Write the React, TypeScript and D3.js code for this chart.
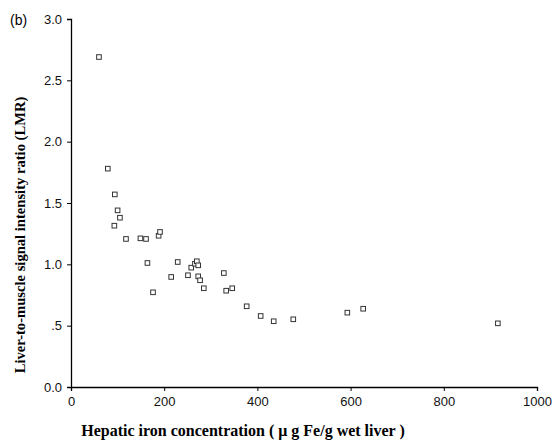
import { useEffect, useRef } from 'react';
import * as d3 from 'd3';

// hepatic iron (µg Fe/g wet liver) vs LMR
const ironValues = [60, 79, 94, 100, 105, 93, 118, 149, 161, 188, 191, 164, 176, 229, 215, 251, 258, 266, 270, 273, 273, 277, 285, 328, 333, 346, 377, 407, 435, 477, 593, 627, 916];
const lmrValues = [2.69, 1.78, 1.57, 1.44, 1.38, 1.315, 1.207, 1.212, 1.207, 1.233, 1.264, 1.011, 0.772, 1.019, 0.897, 0.911, 0.973, 1.005, 1.025, 0.992, 0.902, 0.87, 0.805, 0.929, 0.785, 0.805, 0.658, 0.579, 0.536, 0.552, 0.606, 0.638, 0.519];
const xTicks = [0, 200, 400, 600, 800, 1000];
const yTicks = [0, 0.5, 1, 1.5, 2, 2.5, 3];
const yTickLabels = ['0.0', '.5', '1.0', '1.5', '2.0', '2.5', '3.0'];

function App() {
  const svgRef = useRef<SVGSVGElement>(null);

  useEffect(() => {
    const width = 553;
    const height = 443;
    const left = 71, right = 537, top = 19, bottom = 387;

    const svg = d3.select(svgRef.current)
      .attr('width', width)
      .attr('height', height);

    const x = d3.scaleLinear().domain([0, 1000]).range([left, right]);
    const y = d3.scaleLinear().domain([0, 3]).range([bottom, top]);

    // y axis
    const yAxis = d3.axisLeft(y)
      .tickValues(yTicks)
      .tickSize(4)
      .tickPadding(5)
      .tickFormat((d, i) => yTickLabels[i]);
    const gy = svg.append('g')
      .attr('transform', `translate(${left},0)`)
      .call(yAxis);

    // x axis
    const xAxis = d3.axisBottom(x)
      .tickValues(xTicks)
      .tickSize(4)
      .tickPadding(6)
      .tickFormat(d3.format('d'));
    const gx = svg.append('g')
      .attr('transform', `translate(0,${bottom})`)
      .call(xAxis);

    [gx, gy].forEach(g => {
      g.select('.domain').attr('stroke', '#000').attr('stroke-width', 1.3);
      g.selectAll('.tick line').attr('stroke', '#000');
      g.selectAll('.tick text')
        .attr('fill', '#111')
        .style('font-family', '"Liberation Sans", Arial, sans-serif')
        .style('font-size', '13px');
    });

    // points
    const pts = ironValues.map((v, i) => [v, lmrValues[i]]);
    svg.append('g')
      .selectAll('rect')
      .data(pts)
      .enter().append('rect')
      .attr('x', d => x(d[0]) - 2.3)
      .attr('y', d => y(d[1]) - 2.3)
      .attr('width', 4.6)
      .attr('height', 4.6)
      .attr('fill', '#fff')
      .attr('stroke', '#333')
      .attr('stroke-width', 1);

    // titles
    svg.append('text')
      .attr('x', 243)
      .attr('y', 436)
      .attr('text-anchor', 'middle')
      .style('font-family', '"Liberation Serif", "Times New Roman", serif')
      .style('font-weight', 'bold')
      .style('font-size', '16px')
      .text('Hepatic iron concentration ( μ g Fe/g wet liver )');

    svg.append('text')
      .attr('transform', 'translate(25,235) rotate(-90)')
      .attr('text-anchor', 'middle')
      .style('font-family', '"Liberation Serif", "Times New Roman", serif')
      .style('font-weight', 'bold')
      .style('font-size', '14.6px')
      .text('Liver-to-muscle signal intensity ratio (LMR)');

    svg.append('text')
      .attr('x', 10)
      .attr('y', 25)
      .style('font-family', '"Liberation Sans", Arial, sans-serif')
      .style('font-size', '14px')
      .text('(b)');

    return () => {
      svg.selectAll('*').remove();
    };
  }, []);

  return <svg ref={svgRef} style={{ position: 'absolute', left: 0, top: 0, background: '#fff' }}></svg>;
}

export default App;
